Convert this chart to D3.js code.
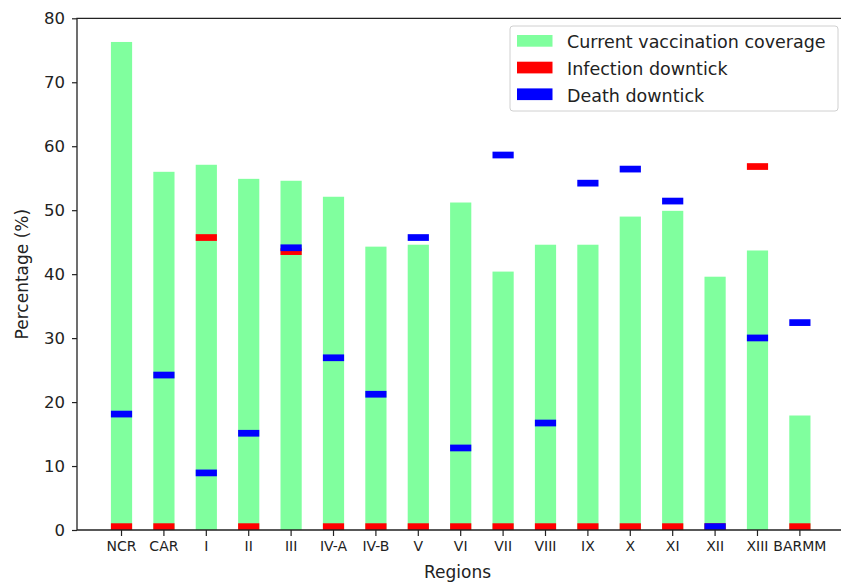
<!DOCTYPE html>
<html>
<head>
<meta charset="utf-8">
<script src="https://cdn.jsdelivr.net/npm/d3@7"></script>
<style>
  body { margin: 0; background: #fff; }
  text { font-family: "DejaVu Sans", sans-serif; fill: #222; }
</style>
</head>
<body>
<svg></svg>
<script>
// chart data
const regions = ['NCR', 'CAR', 'I', 'II', 'III', 'IV-A', 'IV-B', 'V', 'VI', 'VII',
    'VIII', 'IX', 'X', 'XI', 'XII', 'XIII', 'BARMM'];
const coverage = [76.3, 56.0, 57.1, 54.9, 54.6, 52.1, 44.3, 44.6, 51.2, 40.4,
    44.6, 44.6, 49.0, 49.9, 39.6, 43.7, 17.9];
const infectionDowntick = [0, 0, 45.2, 0, 43.0, 0, 0, 0, 0, 0,
    0, 0, 0, 0, 0, 56.3, 0];
const deathDowntick = [17.6, 23.7, 8.4, 14.6, 43.6, 26.4, 20.7, 45.2, 12.3, 58.1,
    16.2, 53.7, 55.9, 50.9, 0, 29.5, 31.9];
const yTicks = [0, 10, 20, 30, 40, 50, 60, 70, 80];
const legendLabels = ['Current vaccination coverage', 'Infection downtick', 'Death downtick'];

const size = {w: 841, h: 582};
const colors = {cov: '#80ff9e', inf: '#ff0000', death: '#0000ff'};
const markerH = 1.05; // downtick markers are short bars

const svg = d3.select('svg')
    .attr('width', size.w)
    .attr('height', size.h);

// scales
const x = d3.scaleBand()
    .domain(regions)
    .range([77, 844.4])
    .paddingInner(0.5)
    .paddingOuter(0.8);

const y = d3.scaleLinear()
    .domain([0, 80])
    .range([530, 18.3]);

const plotG = svg.append('g').classed('plot', true);

// green coverage bars
plotG.selectAll('rect.cov')
    .data(regions)
    .enter()
    .append('rect')
    .attr('class', 'cov')
    .attr('x', d => x(d))
    .attr('width', x.bandwidth())
    .attr('y', (d, i) => y(coverage[i]))
    .attr('height', (d, i) => y(0) - y(coverage[i]))
    .attr('fill', colors.cov);

// markers drawn as bars starting at the value
function drawMarkers(cls, values, color) {
    plotG.selectAll('rect.' + cls)
        .data(regions)
        .enter()
        .append('rect')
        .attr('class', cls)
        .attr('x', d => x(d))
        .attr('width', x.bandwidth())
        .attr('y', (d, i) => y(values[i] + markerH))
        .attr('height', (d, i) => y(values[i]) - y(values[i] + markerH))
        .attr('fill', color);
}
drawMarkers('inf', infectionDowntick, colors.inf);
drawMarkers('death', deathDowntick, colors.death);

// axes
const xAxis = svg.append('g')
    .attr('transform', `translate(0,${y(0)})`)
    .call(d3.axisBottom(x).tickSize(6).tickPadding(5));
xAxis.selectAll('text').style('font-size', '14px');

const yAxis = svg.append('g')
    .attr('transform', `translate(${x.range()[0]},0)`)
    .call(d3.axisLeft(y).tickValues(yTicks).tickSize(5).tickPadding(7));
yAxis.selectAll('text').style('font-size', '16.5px');

svg.selectAll('.domain').remove();
svg.selectAll('.tick line').attr('stroke', '#222').attr('stroke-width', 1.2);

// spines: left, bottom, top (right one falls outside the picture)
const x0 = x.range()[0], x1 = x.range()[1];
svg.append('path')
    .attr('d', `M${x1},${y(80)}H${x0}V${y(0)}H${x1}`)
    .attr('fill', 'none')
    .attr('stroke', '#222')
    .attr('stroke-width', 1.3);

// axis labels
svg.append('text')
    .attr('x', (x0 + 844) / 2 - 3)
    .attr('y', 578)
    .attr('text-anchor', 'middle')
    .style('font-size', '17px')
    .text('Regions');

svg.append('text')
    .attr('transform', `translate(28,${(y(0) + y(80)) / 2}) rotate(-90)`)
    .attr('text-anchor', 'middle')
    .style('font-size', '17px')
    .text('Percentage (%)');

// legend
const legendG = svg.append('g').attr('transform', 'translate(510,26)');
legendG.append('rect')
    .attr('width', 328)
    .attr('height', 85)
    .attr('rx', 3)
    .attr('fill', 'rgba(255,255,255,0.8)')
    .attr('stroke', '#d0d0d0');

const legendColors = [colors.cov, colors.inf, colors.death];
const rows = legendG.selectAll('g.row')
    .data(legendLabels)
    .enter()
    .append('g')
    .attr('class', 'row')
    .attr('transform', (d, i) => `translate(0,${i * 26.7})`);
rows.append('rect')
    .attr('x', 7)
    .attr('y', 9)
    .attr('width', 35.5)
    .attr('height', 11.7)
    .attr('fill', (d, i) => legendColors[i]);
rows.append('text')
    .attr('x', 57)
    .attr('y', 22.3)
    .style('font-size', '17.5px')
    .text(d => d);
</script>
</body>
</html>
